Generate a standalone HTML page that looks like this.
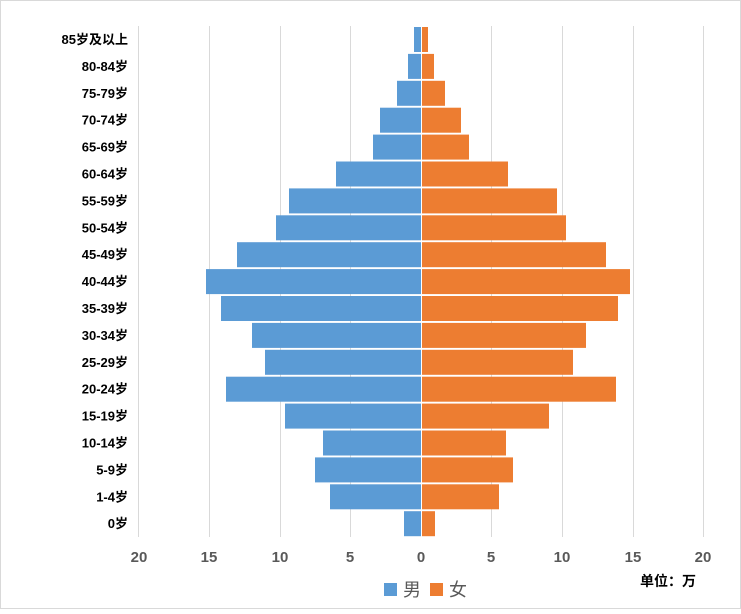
<!DOCTYPE html><html><head><meta charset="utf-8"><style>
body{margin:0;background:#fff}
svg text{font-family:"Liberation Sans","Noto Sans CJK SC",sans-serif}
</style></head><body>
<svg width="741" height="609" xmlns="http://www.w3.org/2000/svg">
<rect x="0.5" y="0.5" width="740" height="608" fill="#fff" stroke="#d9d9d9"/>
<g stroke="#d9d9d9" stroke-width="1">
<line x1="138.5" y1="26" x2="138.5" y2="537"/><line x1="209.5" y1="26" x2="209.5" y2="537"/><line x1="280.5" y1="26" x2="280.5" y2="537"/><line x1="350.5" y1="26" x2="350.5" y2="537"/>
<line x1="491.5" y1="26" x2="491.5" y2="537"/><line x1="562.5" y1="26" x2="562.5" y2="537"/><line x1="633.5" y1="26" x2="633.5" y2="537"/><line x1="703.5" y1="26" x2="703.5" y2="537"/>
</g>
<g id="bars"></g>
<g font-size="13" font-weight="bold" fill="#000" text-anchor="end" id="labs"></g>
<g font-size="15" font-weight="bold" fill="#595959" text-anchor="middle">
<text x="139" y="562">20</text><text x="209" y="562">15</text><text x="280" y="562">10</text><text x="350" y="562">5</text><text x="421" y="562">0</text><text x="491" y="562">5</text><text x="562" y="562">10</text><text x="633" y="562">15</text><text x="703" y="562">20</text>
</g>
<rect x="384" y="583" width="13" height="13" fill="#5B9BD5"/>
<text x="403" y="596" font-size="18" fill="#595959" font-family="Noto Serif CJK SC,serif">男</text>
<rect x="430" y="583" width="13" height="13" fill="#ED7D31"/>
<text x="449" y="596" font-size="18" fill="#595959" font-family="Noto Serif CJK SC,serif">女</text>
<text x="640" y="586" font-size="14" font-weight="bold" fill="#000">单位：万</text>
</svg>
<script>
var L=["85岁及以上","80-84岁","75-79岁","70-74岁","65-69岁","60-64岁","55-59岁","50-54岁","45-49岁","40-44岁","35-39岁","30-34岁","25-29岁","20-24岁","15-19岁","10-14岁","5-9岁","1-4岁","0岁"];
var M=[414,408,397,380,373,336,289,276,237,206,221,252,265,226,285,323,315,330,404];
var F=[428,434,445,461,469,508,557,566,606,630,618,586,573,616,549,506,513,499,435];
var b="",t="",p=26.9;
for(var i=0;i<19;i++){var y=26+i*p+1;
b+='<rect x="'+M[i]+'" y="'+y+'" width="'+(421-M[i])+'" height="25" fill="#5B9BD5"/>';
b+='<rect x="422" y="'+y+'" width="'+(F[i]-422)+'" height="25" fill="#ED7D31"/>';
t+='<text x="128" y="'+(y+17)+'">'+L[i]+'</text>';}
document.getElementById("bars").innerHTML=b;document.getElementById("labs").innerHTML=t;
</script>
</body></html>
